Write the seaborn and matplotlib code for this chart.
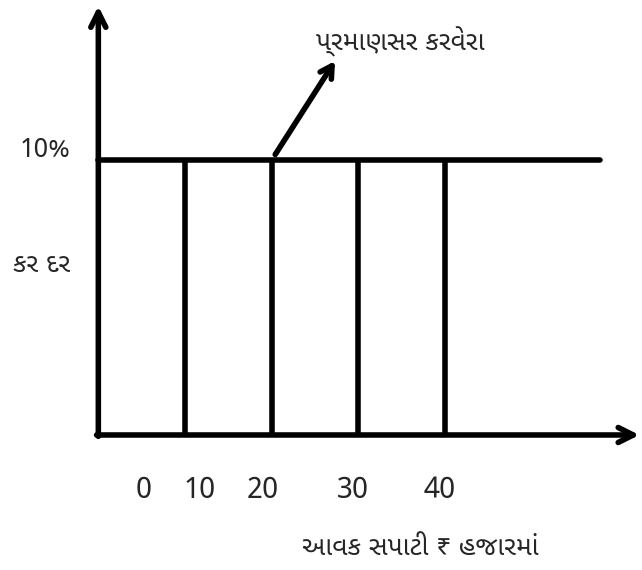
import numpy as np
import pandas as pd
import matplotlib
matplotlib.use("Agg")
import matplotlib.pyplot as plt
from matplotlib import font_manager
import seaborn as sns

# values
income_levels = [10, 20, 30, 40]          # vertical lines (₹ thousand)
tick_labels = ["0", "10", "20", "30", "40"]
tax_rate = 10                             # proportional tax, %
rate_label = "10%"
y_label = "કર દર"
x_label = "આવક સપાટી ₹ હજારમાં"
line_label = "પ્રમાણસર કરવેરા"

sns.set_theme(style="white")

# look for a font that can draw Gujarati
guj = None
for f in font_manager.findSystemFonts():
    if "gujarati" in f.lower() or "shruti" in f.lower():
        try:
            guj = font_manager.FontProperties(fname=f).get_name()
            font_manager.fontManager.addfont(f)
            break
        except Exception:
            pass
fams = ([guj] if guj else []) + ["Lato", "DejaVu Sans"]
plt.rcParams["font.family"] = fams

fig = plt.figure(figsize=(6.42, 5.70), dpi=100)
ax = fig.add_axes([0, 0, 1, 1])
ax.set_xlim(-11.34, 62.7)
ax.set_ylim(-4.91, 15.82)
ax.set_axis_off()

lw = 4
head = "->,head_length=0.9,head_width=0.45"
# axes with open arrow heads
ax.annotate("", xy=(0, 15.6), xytext=(0, -0.05),
            arrowprops=dict(arrowstyle=head, lw=lw, color="black",
                            shrinkA=0, shrinkB=0, capstyle="round", joinstyle="round"))
ax.annotate("", xy=(62.4, 0), xytext=(-0.2, 0),
            arrowprops=dict(arrowstyle=head, lw=lw, color="black",
                            shrinkA=0, shrinkB=0, capstyle="round", joinstyle="round"))

# proportional tax line
df = pd.DataFrame({"income": [0, 57.9], "rate": [tax_rate, tax_rate]})
sns.lineplot(data=df, x="income", y="rate", color="black", lw=lw, ax=ax)
ax.vlines(income_levels, 0, tax_rate, color="black", lw=lw)

# pointer arrow
ax.annotate("", xy=(27.3, 13.6), xytext=(20.4, 10.2),
            arrowprops=dict(arrowstyle="->,head_length=0.7,head_width=0.4", lw=lw,
                            color="black", shrinkA=0, shrinkB=0))

fs = 19
ax.text(34.8, 14.3, line_label, fontsize=fs, ha="center", va="center")
ax.text(-6.1, 10.4, rate_label, fontsize=fs, ha="center", va="center")
ax.text(-6.5, 6.2, y_label, fontsize=fs, ha="center", va="center")
for x, t in zip([5.2, 11.7, 19.0, 29.4, 39.4], tick_labels):
    ax.text(x, -2.0, t, fontsize=fs + 2, ha="center", va="center")
ax.text(37.1, -4.1, x_label, fontsize=fs, ha="center", va="center")

fig.savefig("out.png", dpi=100)
